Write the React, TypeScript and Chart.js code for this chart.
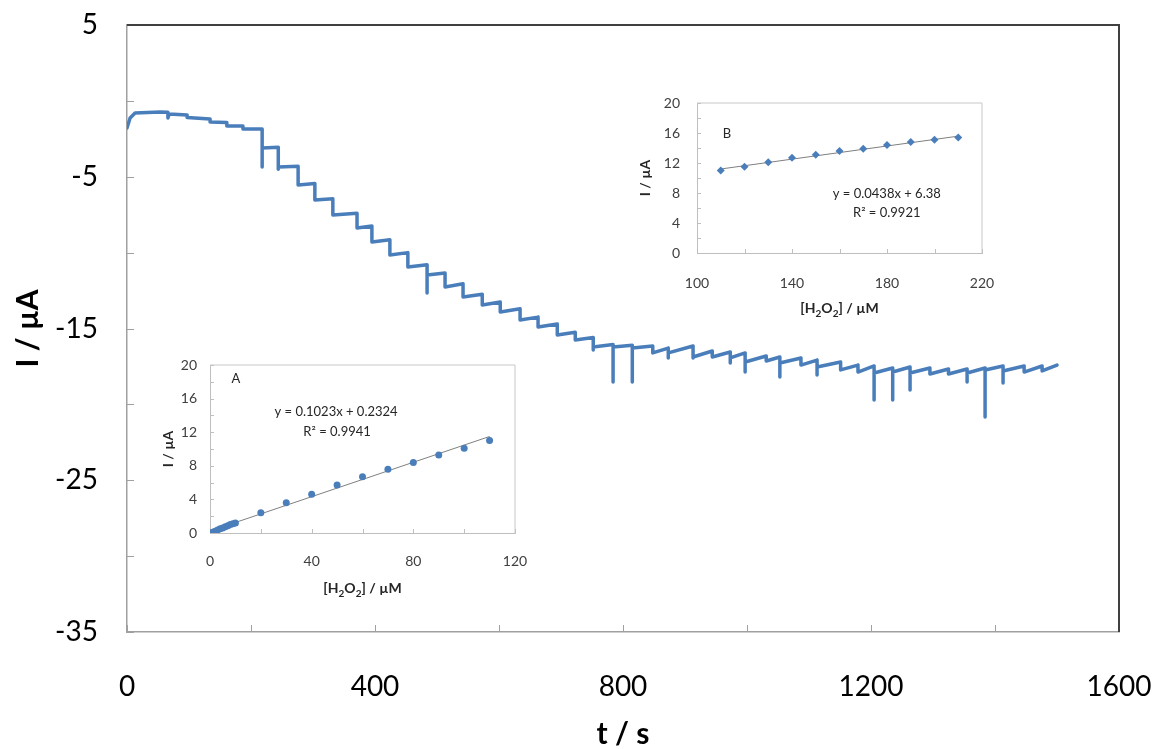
import React, { useEffect, useRef } from "react";
import { Chart, registerables } from "chart.js";
Chart.register(...registerables);

const FONT = "Lato, 'Open Sans', 'DejaVu Sans', sans-serif";
const LINE_COLOR = "#4A7EBB";

// ---------- main amperometric i-t curve ----------
const startTimes = [0, 5, 13, 53, 66, 66, 68, 97, 97, 134, 134, 161, 161, 187, 187, 218];
const startCurrents = [-1.79, -1.13, -0.8, -0.73, -0.75, -1.13, -0.86, -0.93, -1.1, -1.19, -1.39, -1.42, -1.66, -1.66, -1.85, -1.85];

const stepTimes = [
  218, 244, 276, 303, 332, 371, 395, 424, 453, 484,
  513, 542, 573, 602, 634, 663, 694, 723, 752, 784,
  815, 848, 873, 913, 944, 973, 997, 1031, 1053, 1087,
  1113, 1151, 1179, 1205, 1235, 1263, 1295, 1325, 1355, 1384,
  1413, 1447, 1476,
];
const stepSpikes: (number | null)[] = [
  -4.36, -4.5, null, null, null, null, null, null, null, -12.66,
  null, null, null, null, null, null, null, null, -16.42, -18.53,
  -18.53, null, -16.94, -16.94, null, -17.27, -17.87, null, -18.2, null,
  -18.06, null, null, -19.71, -19.71, -19.05, null, null, -18.53, -20.83,
  -18.59, null, null,
];
const stepStartCurrents = [
  -3.11, -4.36, -5.54, -6.53, -7.52, -8.38, -9.3, -10.16, -10.95, -11.47,
  -12.27, -12.92, -13.45, -13.91, -14.44, -14.9, -15.43, -15.76, -16.22, -16.22,
  -16.29, -16.61, -16.61, -16.88, -16.88, -16.94, -17.21, -17.14, -17.27, -17.41,
  -17.54, -17.73, -17.87, -17.93, -17.87, -17.93, -18.0, -18.0, -17.93, -17.73,
  -17.8, -17.87, -17.8,
];
const stepEndCurrents = [
  -3.05, -4.3, -5.45, -6.45, -7.4, -8.25, -9.15, -10.0, -10.8, -11.35,
  -12.05, -12.75, -13.25, -13.7, -14.25, -14.7, -15.25, -15.6, -16.05, -16.1,
  -16.15, -16.29, -16.15, -16.48, -16.55, -16.61, -16.81, -16.88, -16.94, -17.08,
  -17.21, -17.41, -17.47, -17.6, -17.54, -17.6, -17.67, -17.67, -17.6, -17.47,
  -17.47, -17.47, -17.41,
];
const endTime = 1500;

const mainXLabels = [0, 400, 800, 1200, 1600];
const mainYLabels = [5, -5, -15, -25, -35];

// ---------- inset A ----------
const concA = [1, 2, 3, 4, 5, 6, 7, 8, 9, 10, 20, 30, 40, 50, 60, 70, 80, 90, 100, 110];
const currA = [0.1, 0.2, 0.35, 0.5, 0.6, 0.75, 0.85, 1.0, 1.1, 1.2, 2.4, 3.6, 4.6, 5.7, 6.7, 7.6, 8.4, 9.3, 10.1, 11.0];
const trendAx = [1, 110];
const trendAy = [0.33, 11.49];
const insetAXLabels = [0, 40, 80, 120];
const insetAYLabels = [0, 4, 8, 12, 16, 20];

// ---------- inset B ----------
const concB = [110, 120, 130, 140, 150, 160, 170, 180, 190, 200, 210];
const currB = [11.0, 11.5, 12.1, 12.7, 13.1, 13.6, 13.9, 14.4, 14.8, 15.1, 15.4];
const trendBx = [110, 210];
const trendBy = [11.2, 15.58];
const insetBXLabels = [100, 140, 180, 220];
const insetBYLabels = [0, 4, 8, 12, 16, 20];

function buildCurve() {
  const pts: { x: number; y: number }[] = startTimes.map((t, i) => ({ x: t, y: startCurrents[i] }));
  stepTimes.forEach((t, i) => {
    const s = stepSpikes[i];
    if (s !== null) pts.push({ x: t, y: s });
    pts.push({ x: t, y: stepStartCurrents[i] });
    const next = i + 1 < stepTimes.length ? stepTimes[i + 1] : endTime;
    pts.push({ x: next, y: stepEndCurrents[i] });
  });
  return pts;
}

const innerTicks = (color: string, len: number) => ({
  id: "innerTicks",
  beforeDatasetsDraw(chart: any) {
    const { ctx, chartArea: a, scales } = chart;
    ctx.save();
    ctx.strokeStyle = color;
    ctx.lineWidth = 1;
    ctx.beginPath();
    scales.x.ticks.forEach((t: any) => {
      const p = Math.round(scales.x.getPixelForValue(t.value)) + 0.5;
      ctx.moveTo(p, a.bottom);
      ctx.lineTo(p, a.bottom - len);
    });
    scales.y.ticks.forEach((t: any) => {
      const p = Math.round(scales.y.getPixelForValue(t.value)) + 0.5;
      ctx.moveTo(a.left, p);
      ctx.lineTo(a.left + len, p);
    });
    ctx.stroke();
    ctx.restore();
  },
});

const frame = (color: string, width: number) => ({
  id: "frame",
  afterDraw(chart: any) {
    const { ctx, chartArea: a } = chart;
    ctx.save();
    ctx.strokeStyle = color;
    ctx.lineWidth = width;
    ctx.beginPath();
    ctx.moveTo(a.left, a.top);
    ctx.lineTo(a.right, a.top);
    ctx.lineTo(a.right, a.bottom);
    ctx.stroke();
    ctx.restore();
  },
});

type Note = { text: string; x: number; y: number };
const notes = (items: Note[]) => ({
  id: "notes",
  afterDatasetsDraw(chart: any) {
    const { ctx, scales } = chart;
    ctx.save();
    ctx.fillStyle = "#262626";
    ctx.font = `13px ${FONT}`;
    ctx.textAlign = "center";
    ctx.textBaseline = "middle";
    items.forEach((it) => {
      ctx.fillText(it.text, scales.x.getPixelForValue(it.x), scales.y.getPixelForValue(it.y));
    });
    ctx.restore();
  },
});

type Part = { t: string; sub?: boolean };
const subTitle = (parts: Part[], dy: number) => ({
  id: "subTitle",
  afterDraw(chart: any) {
    const { ctx, chartArea: a } = chart;
    ctx.save();
    const big = `bold 14px ${FONT}`;
    const small = `bold 10px ${FONT}`;
    let w = 0;
    parts.forEach((p) => {
      ctx.font = p.sub ? small : big;
      w += ctx.measureText(p.t).width;
    });
    let x = (a.left + a.right) / 2 - w / 2;
    const y = a.bottom + dy;
    ctx.fillStyle = "#262626";
    ctx.textBaseline = "alphabetic";
    ctx.textAlign = "left";
    parts.forEach((p) => {
      ctx.font = p.sub ? small : big;
      ctx.fillText(p.t, x, p.sub ? y + 4 : y);
      x += ctx.measureText(p.t).width;
    });
    ctx.restore();
  },
});

function mainConfig(): any {
  return {
    type: "line",
    data: {
      datasets: [
        {
          data: buildCurve(),
          borderColor: LINE_COLOR,
          borderWidth: 3.5,
          pointRadius: 0,
          tension: 0,
          fill: false,
          borderJoinStyle: "round",
          borderCapStyle: "round",
        },
      ],
    },
    options: {
      responsive: false,
      animation: false,
      devicePixelRatio: 1,
      layout: { padding: { left: 0, top: 25, right: 34, bottom: 0 } },
      plugins: { legend: { display: false }, tooltip: { enabled: false } },
      scales: {
        x: {
          type: "linear",
          min: 0,
          max: 1600,
          afterFit: (s: any) => {
            s.height = 117;
            s.paddingLeft = 0;
            s.paddingRight = 0;
          },
          ticks: {
            stepSize: 200,
            autoSkip: false,
            maxRotation: 0,
            padding: 38,
            color: "#000",
            font: { family: FONT, size: 28 },
            callback: (v: number) => (mainXLabels.includes(v) ? String(v) : ""),
          },
          grid: { display: false, drawTicks: false },
          border: { display: true, color: "#a0a0a0", width: 1.5 },
          title: {
            display: true,
            text: "t / s",
            color: "#000",
            font: { family: FONT, size: 30, weight: "bold", lineHeight: 1 },
            padding: { top: 0, bottom: 0 },
          },
        },
        y: {
          type: "linear",
          min: -35,
          max: 5,
          afterFit: (s: any) => {
            s.width = 127;
            s.paddingTop = 0;
            s.paddingBottom = 0;
          },
          ticks: {
            stepSize: 5,
            autoSkip: false,
            padding: 29,
            color: "#000",
            font: { family: FONT, size: 28 },
            callback: (v: number) => (mainYLabels.includes(v) ? String(v) : ""),
          },
          grid: { display: false, drawTicks: false },
          border: { display: true, color: "#a0a0a0", width: 1.5 },
          title: {
            display: true,
            text: "I / µA",
            color: "#000",
            font: { family: FONT, size: 30, weight: "bold", lineHeight: 1.2 },
            padding: { top: 10, bottom: 0 },
          },
        },
      },
    },
    plugins: [innerTicks("#a0a0a0", 7), frame("#404040", 2)],
  };
}

type InsetOpts = {
  xMin: number;
  xMax: number;
  xLabels: number[];
  yLabels: number[];
  px: number[];
  py: number[];
  tx: number[];
  ty: number[];
  pointStyle: string;
  pointRadius: number;
  padTop: number;
  padRight: number;
  yWidth: number;
  xHeight: number;
  yTickPad: number;
  xTickPad: number;
  yTitlePad: number;
  notes: Note[];
};

function insetConfig(o: InsetOpts): any {
  return {
    type: "scatter",
    data: {
      datasets: [
        {
          type: "line",
          data: o.tx.map((x, i) => ({ x, y: o.ty[i] })),
          borderColor: "#7f7f7f",
          borderWidth: 1,
          pointRadius: 0,
          fill: false,
          order: 2,
        },
        {
          data: o.px.map((x, i) => ({ x, y: o.py[i] })),
          backgroundColor: LINE_COLOR,
          borderColor: LINE_COLOR,
          borderWidth: 0,
          pointStyle: o.pointStyle,
          pointRadius: o.pointRadius,
          order: 1,
        },
      ],
    },
    options: {
      responsive: false,
      animation: false,
      devicePixelRatio: 1,
      layout: { padding: { left: 0, top: o.padTop, right: o.padRight, bottom: 0 } },
      plugins: { legend: { display: false }, tooltip: { enabled: false } },
      scales: {
        x: {
          type: "linear",
          min: o.xMin,
          max: o.xMax,
          afterFit: (s: any) => {
            s.height = o.xHeight;
            s.paddingLeft = 0;
            s.paddingRight = 0;
          },
          ticks: {
            stepSize: 20,
            autoSkip: false,
            maxRotation: 0,
            padding: o.xTickPad,
            color: "#404040",
            font: { family: FONT, size: 14 },
            callback: (v: number) => (o.xLabels.includes(v) ? String(v) : ""),
          },
          grid: { display: false, drawTicks: false },
          border: { display: true, color: "#bfbfbf", width: 1 },
        },
        y: {
          type: "linear",
          min: 0,
          max: 20,
          afterFit: (s: any) => {
            s.width = o.yWidth;
            s.paddingTop = 0;
            s.paddingBottom = 0;
          },
          ticks: {
            stepSize: 2,
            autoSkip: false,
            padding: o.yTickPad,
            color: "#404040",
            font: { family: FONT, size: 14 },
            callback: (v: number) => (o.yLabels.includes(v) ? String(v) : ""),
          },
          grid: { display: false, drawTicks: false },
          border: { display: true, color: "#bfbfbf", width: 1 },
          title: {
            display: true,
            text: "I / µA",
            color: "#262626",
            font: { family: FONT, size: 14, weight: "bold", lineHeight: 1.2 },
            padding: { top: o.yTitlePad, bottom: 0 },
          },
        },
      },
    },
    plugins: [
      innerTicks("#bfbfbf", 4),
      frame("#c8c8c8", 1),
      notes(o.notes),
      subTitle(
        [{ t: "[H" }, { t: "2", sub: true }, { t: "O" }, { t: "2", sub: true }, { t: "] / µM" }],
        60
      ),
    ],
  };
}

export default function App() {
  const mainRef = useRef<HTMLCanvasElement>(null);
  const aRef = useRef<HTMLCanvasElement>(null);
  const bRef = useRef<HTMLCanvasElement>(null);

  useEffect(() => {
    const charts: Chart[] = [];
    charts.push(new Chart(mainRef.current!, mainConfig()));
    charts.push(
      new Chart(
        aRef.current!,
        insetConfig({
          xMin: 0,
          xMax: 120,
          xLabels: insetAXLabels,
          yLabels: insetAYLabels,
          px: concA,
          py: currA,
          tx: trendAx,
          ty: trendAy,
          pointStyle: "circle",
          pointRadius: 3.5,
          padTop: 15,
          padRight: 25,
          yWidth: 60,
          xHeight: 72,
          yTickPad: 13,
          xTickPad: 20,
          yTitlePad: 10,
          notes: [
            { text: "A", x: 10.2, y: 18.3 },
            { text: "y = 0.1023x + 0.2324", x: 49.6, y: 14.4 },
            { text: "R² = 0.9941", x: 50, y: 12.0 },
          ],
        })
      )
    );
    charts.push(
      new Chart(
        bRef.current!,
        insetConfig({
          xMin: 100,
          xMax: 220,
          xLabels: insetBXLabels,
          yLabels: insetBYLabels,
          px: concB,
          py: currB,
          tx: trendBx,
          ty: trendBy,
          pointStyle: "rectRot",
          pointRadius: 4,
          padTop: 15,
          padRight: 28,
          yWidth: 67,
          xHeight: 70,
          yTickPad: 17,
          xTickPad: 22,
          yTitlePad: 7,
          notes: [
            { text: "B", x: 112.6, y: 15.9 },
            { text: "y = 0.0438x + 6.38", x: 179.9, y: 7.83 },
            { text: "R² = 0.9921", x: 179.9, y: 5.37 },
          ],
        })
      )
    );
    return () => charts.forEach((c) => c.destroy());
  }, []);

  return (
    <div
      style={{
        position: "fixed",
        left: 0,
        top: 0,
        width: 1153,
        height: 749,
        background: "#fff",
        overflow: "hidden",
      }}
    >
      <canvas ref={mainRef} width={1153} height={749} style={{ position: "absolute", left: 0, top: 0 }} />
      <canvas ref={aRef} width={390} height={255} style={{ position: "absolute", left: 150, top: 350 }} />
      <canvas ref={bRef} width={380} height={235} style={{ position: "absolute", left: 630, top: 88 }} />
    </div>
  );
}
